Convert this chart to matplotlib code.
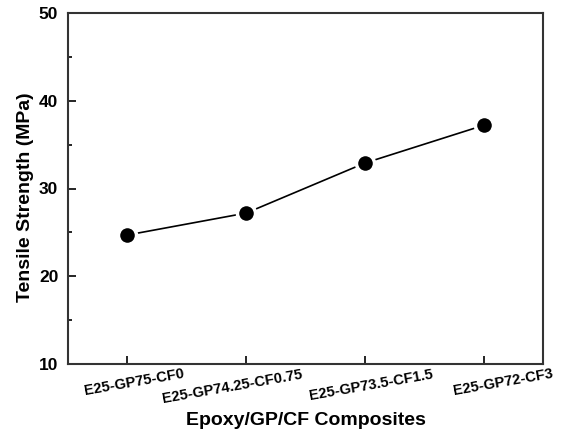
import matplotlib
matplotlib.use("Agg")
import matplotlib.pyplot as plt
import matplotlib.transforms as mtransforms
from matplotlib.ticker import MultipleLocator

# tensile strength of the four composites
samples = ["E25-GP75-CF0", "E25-GP74.25-CF0.75", "E25-GP73.5-CF1.5", "E25-GP72-CF3"]
strength = [24.7, 27.2, 32.9, 37.2]

plt.rcParams['font.family'] = ['Liberation Sans', 'DejaVu Sans']
plt.rcParams['font.weight'] = 'bold'

fig = plt.figure(figsize=(5.71, 4.32), dpi=100)
ax = fig.add_axes([68/571, 1 - 364/432, (543-68)/571, (364-13)/432])

x = list(range(len(samples)))
ax.plot(x, strength, color='black', lw=1.2, marker='o', ms=13,
        mfc='black', mec='white', mew=2.5)

ax.set_xlim(-0.5, 3.5)
ax.set_ylim(10, 50)
ax.set_xticks(x)
ax.set_xticklabels([])
ax.yaxis.set_major_locator(MultipleLocator(10))
ax.yaxis.set_minor_locator(MultipleLocator(5))
ax.tick_params(axis='both', which='both', direction='in')
ax.tick_params(axis='y', labelsize=12.5, pad=7)
ax.tick_params(which='major', length=6, width=1.2)
ax.tick_params(which='minor', length=3, width=1.2)
for lab in ax.get_yticklabels():
    lab.set_fontweight('bold')
for s in ax.spines.values():
    s.set_linewidth(1.5)
    s.set_color('#333333')

# sample names sit slightly off their ticks in the original, nudge them (px)
nudge = [7, -14, 6, 19]
base = mtransforms.blended_transform_factory(ax.transData, ax.transAxes)
for xi, name, dx in zip(x, samples, nudge):
    tr = base + mtransforms.ScaledTranslation(dx / 100, -3 / 100, fig.dpi_scale_trans)
    ax.text(xi, 0, name, transform=tr, rotation=10, ha='center', va='top',
            fontsize=10.5, fontweight='bold')

ax.set_xlabel("Epoxy/GP/CF Composites", fontsize=14, fontweight='bold')
ax.xaxis.set_label_coords(0.5, -0.137)
ax.set_ylabel("Tensile Strength (MPa)", fontsize=14, fontweight='bold')
ax.yaxis.set_label_coords(-0.072, 0.476)

fig.savefig("out.png", dpi=100)
